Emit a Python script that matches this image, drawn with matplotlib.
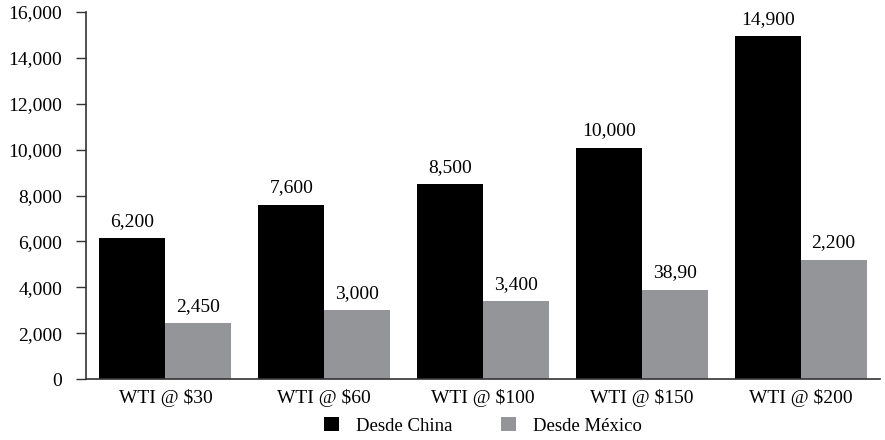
import matplotlib
matplotlib.use("Agg")
import matplotlib.pyplot as plt
import numpy as np

plt.rcParams["font.family"] = ["Liberation Serif", "DejaVu Serif"]

# data
categories = ["WTI @ $30", "WTI @ $60", "WTI @ $100", "WTI @ $150", "WTI @ $200"]
china = [6150, 7600, 8500, 10080, 14950]
mexico = [2430, 3000, 3400, 3900, 5200]
# the printed labels do not always match the bar heights, keep them as shown
china_labels = ["6,200", "7,600", "8,500", "10,000", "14,900"]
mexico_labels = ["2,450", "3,000", "3,400", "38,90", "2,200"]

black = "#000000"
grey = "#939598"
fs = 14

fig = plt.figure(figsize=(8.85, 4.4), dpi=100)
ax = fig.add_axes([0.0972, 0.1386, 0.8972, 0.8341])

x = np.arange(len(categories))
w = 0.416
b1 = ax.bar(x - w / 2, china, w, color=black, label="Desde China")
b2 = ax.bar(x + w / 2, mexico, w, color=grey, label="Desde México")

for bars, labs in ((b1, china_labels), (b2, mexico_labels)):
    for r, lab in zip(bars, labs):
        ax.annotate(lab, (r.get_x() + r.get_width() / 2, r.get_height()),
                    xytext=(0, 6), textcoords="offset points",
                    ha="center", va="bottom", fontsize=fs)

ax.set_xlim(-0.5, 4.5)
ax.set_ylim(0, 16000)
ax.set_yticks(range(0, 16001, 2000))
ax.set_yticklabels([f"{v:,}" for v in range(0, 16001, 2000)], fontsize=fs)
ax.set_xticks(x)
ax.set_xticklabels(categories, fontsize=fs)
ax.tick_params(axis="x", length=0, pad=7)
ax.tick_params(axis="y", length=7, width=1, color="#333333", pad=10)

for s in ("top", "right"):
    ax.spines[s].set_visible(False)
for s in ("left", "bottom"):
    ax.spines[s].set_color("#333333")
    ax.spines[s].set_linewidth(1.2)

ax.legend(loc="center", bbox_to_anchor=(0.5, -0.128), ncol=2, frameon=False,
          fontsize=13.5, handlelength=0.8, handleheight=0.8, columnspacing=2.6,
          handletextpad=0.9, borderpad=0)

fig.savefig("out.png", dpi=100)
